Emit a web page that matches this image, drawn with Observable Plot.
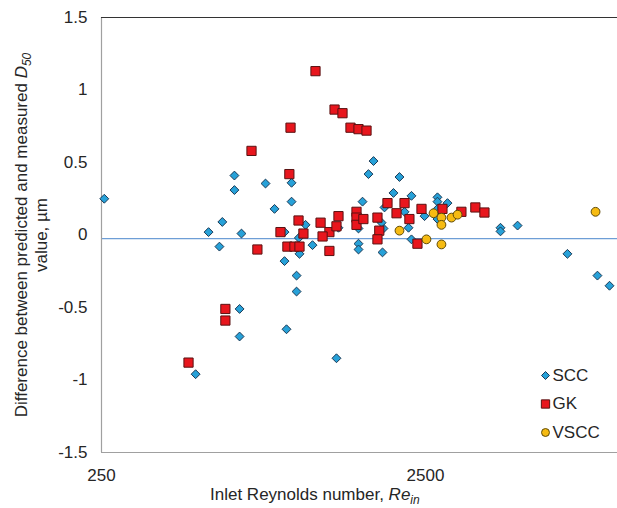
<!DOCTYPE html>
<html><head><meta charset="utf-8">
<script src="https://cdn.jsdelivr.net/npm/d3@7"></script>
<script src="https://cdn.jsdelivr.net/npm/@observablehq/plot@0.6"></script>
<style>
html,body{margin:0;padding:0;background:#fff;}
#chart{width:617px;height:508px;}
</style></head><body><div id="chart"></div>
<script>
// ---- data (inlet Reynolds number, difference predicted - measured D50 in µm) ----
const sccRe   = [255,488,535,578,590,643,643,676,667,667,802,855,965,965,931,918,1000,1000,1021,1066,1016,1120,918,1328,1553,1553,1728,1667,2078,1991,2263,1598,1868,2722,2722,2923,2154,2483,1347,1553,1855,2216,2722,1842,2263,4260,4260,4810,6855,8485,9245,2722,1830];
const sccDiff = [0.25,-0.96,0.02,-0.08,0.09,0.41,0.31,0.01,-0.51,-0.70,0.355,0.18,0.36,0.23,-0.65,-0.18,-0.28,-0.39,-0.13,0.07,-0.02,-0.07,0.02,-0.85,-0.06,-0.10,0.51,0.42,0.40,0.29,0.27,0.23,0.19,0.26,0.23,0.22,0.16,0.13,0.05,0.045,0.045,0.05,0.11,-0.12,-0.03,0.05,0.025,0.065,-0.13,-0.28,-0.35,0.18,0.085];

const gkRe   = [464,603,603,726,958,950,1144,1310,1386,1467,1553,1644,757,1014,892,1050,937,985,1021,1186,1347,1263,1203,1328,1263,1531,1531,1531,1608,1777,1800,1777,1908,2035,2154,2230,2430,2361,2820,3227,3563,3801];
const gkDiff = [-0.88,-0.51,-0.59,0.58,0.74,0.42,1.13,0.865,0.84,0.74,0.73,0.72,-0.10,0.10,0.02,0.01,-0.08,-0.08,-0.08,0.085,0.13,0.02,-0.01,0.06,-0.11,0.16,0.12,0.07,0.11,0.12,0.03,-0.03,0.22,0.15,0.22,0.11,0.18,-0.06,0.18,0.16,0.19,0.155];

const vsccRe   = [8371,2078,2517,2800,2647,2800,2800,3008,3140];
const vsccDiff = [0.16,0.03,-0.03,-0.065,0.15,0.12,0.07,0.12,0.14];

const seriesNames = ["SCC","GK","VSCC"];
const xTicks = [250, 2500];
const yTicks = [-1.5,-1,-0.5,0,0.5,1,1.5];
const xDomain = [250, 9785];
const yDomain = [-1.5, 1.5];
const refLine = -0.025;

// ---- styles ----
const styles = {
  SCC:  {symbol:"diamond2", r:4,   fill:"#27a1d8", stroke:"#1b3a56"},
  GK:   {symbol:"square",   r:5.2, fill:"#e8161d", stroke:"#5a1212"},
  VSCC: {symbol:"circle",   r:4.4, fill:"#f6bb12", stroke:"#5e4a08"}
};

const rows = (re, d) => re.map((r, i) => ({re: r, diff: d[i]}));
const series = {SCC: rows(sccRe, sccDiff), GK: rows(gkRe, gkDiff), VSCC: rows(vsccRe, vsccDiff)};

const font = "'Liberation Sans', Arial, sans-serif";

const marks = [
  Plot.ruleY([refLine], {stroke:"#6e9ed6", strokeWidth:1.3}),
  Plot.ruleX([xDomain[0]], {stroke:"#a0a0a0", strokeWidth:1.2}),
  Plot.ruleY([yDomain[0]], {stroke:"#a0a0a0", strokeWidth:1.2}),
  Plot.ruleY([yDomain[1]], {stroke:"#333", strokeWidth:1.2})
];
seriesNames.forEach(name => {
  const s = styles[name];
  marks.push(Plot.dot(series[name], {x:"re", y:"diff", symbol:s.symbol, r:s.r, fill:s.fill, stroke:s.stroke, strokeWidth:1}));
});
// legend inside the plot, bottom-right
seriesNames.forEach((name, i) => {
  const s = styles[name];
  marks.push(Plot.dot([name], {frameAnchor:"bottom-right", dx:-72, dy:-77 + i*28.5, symbol:s.symbol, r:s.r*0.9, fill:s.fill, stroke:s.stroke, strokeWidth:1}));
  marks.push(Plot.text([name], {text:d=>d, frameAnchor:"bottom-right", dx:-65, dy:-77 + i*28.5, textAnchor:"start", lineAnchor:"middle", fontSize:17, fill:"#262626"}));
});

const chart = Plot.plot({
  width:617, height:508,
  marginTop:17, marginBottom:56, marginLeft:101, marginRight:0,
  style:{fontFamily:font, fontSize:"17px", color:"#262626", background:"#fff", overflow:"visible"},
  x:{type:"log", domain:xDomain, ticks:xTicks, tickFormat:d=>String(d), tickSize:0, tickPadding:16, label:null},
  y:{domain:yDomain, ticks:yTicks, tickFormat:d=>String(d), tickSize:0, tickPadding:14, label:null},
  marks
});
document.getElementById("chart").appendChild(chart);

// axis titles with italic/subscript parts
const svg = d3.select(chart);
const xt = svg.append("text").attr("x", 210).attr("y", 500).attr("text-anchor", "start")
  .attr("font-family", font).attr("font-size", 17).attr("fill", "#262626");
xt.append("tspan").text("Inlet Reynolds number, ");
xt.append("tspan").attr("font-style", "italic").text("Re");
xt.append("tspan").attr("font-style", "italic").attr("font-size", 12).attr("dy", 4).text("in");

const yt1 = svg.append("text").attr("transform", "translate(27,235) rotate(-90)")
  .attr("text-anchor", "middle").attr("font-family", font).attr("font-size", 17).attr("fill", "#262626");
yt1.append("tspan").text("Difference between predicted and measured ");
yt1.append("tspan").attr("font-style", "italic").text("D");
yt1.append("tspan").attr("font-style", "italic").attr("font-size", 12).attr("dy", 4).text("50");

svg.append("text").attr("transform", "translate(47,235) rotate(-90)")
  .attr("text-anchor", "middle").attr("font-family", font).attr("font-size", 17).attr("fill", "#262626")
  .text("value, µm");
</script>
</body></html>
